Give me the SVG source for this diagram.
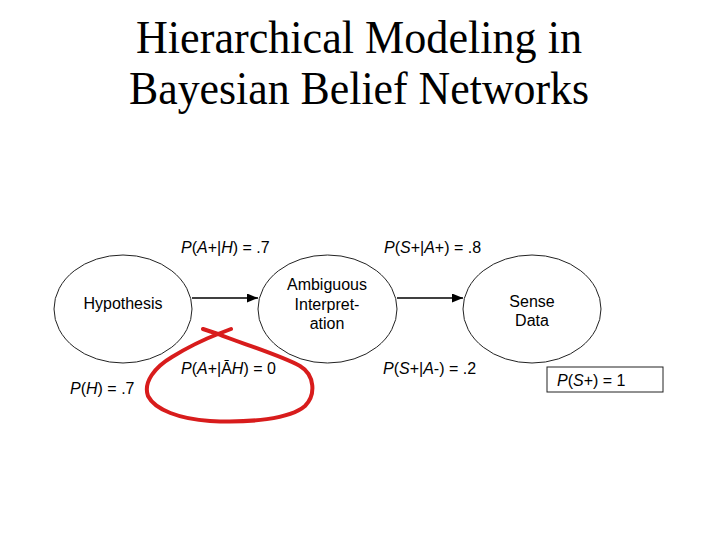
<svg xmlns="http://www.w3.org/2000/svg" width="720" height="540" viewBox="0 0 720 540">
<style>
.title{font-family:"Liberation Serif","Times New Roman",serif;font-size:47px;fill:#000}
.lbl{font-family:"Liberation Sans",Arial,sans-serif;font-size:16px;fill:#000}
.node{fill:#fff;stroke:#222;stroke-width:1}
.edge{stroke:#000;stroke-width:1.3;fill:none}
.i{font-style:italic}
.mid{text-anchor:middle}
</style>
<defs>
<marker id="arr" markerUnits="userSpaceOnUse" markerWidth="11" markerHeight="9" refX="11" refY="4.5" orient="auto">
<path d="M0,0 L11,4.5 L0,9 z" fill="#000"/>
</marker>
</defs>
<rect width="720" height="540" fill="#fff"/>
<g id="title">
<text class="title" x="136" y="53" textLength="446" lengthAdjust="spacingAndGlyphs">Hierarchical Modeling in</text>
<text class="title" x="129" y="104" textLength="460" lengthAdjust="spacingAndGlyphs">Bayesian Belief Networks</text>
</g>
<g id="connectors">
<line class="edge" x1="192" y1="298" x2="258" y2="298" marker-end="url(#arr)"/>
<line class="edge" x1="397" y1="298" x2="463" y2="298" marker-end="url(#arr)"/>
</g>
<g id="hypothesis">
<ellipse class="node" cx="123" cy="309" rx="69" ry="54"/>
<text class="lbl mid" x="123" y="309">Hypothesis</text>
</g>
<g id="ambiguous">
<ellipse class="node" cx="327.5" cy="309" rx="69.5" ry="54"/>
<text class="lbl mid" x="327" y="290">Ambiguous</text>
<text class="lbl mid" x="327" y="310">Interpret-</text>
<text class="lbl mid" x="327" y="329">ation</text>
</g>
<g id="sense">
<ellipse class="node" cx="532" cy="309" rx="69" ry="54"/>
<text class="lbl mid" x="532" y="307">Sense</text>
<text class="lbl mid" x="532" y="326">Data</text>
</g>
<g id="labels">
<text class="lbl" x="181" y="253"><tspan class="i">P</tspan>(<tspan class="i">A</tspan>+|<tspan class="i">H</tspan>) = .7</text>
<text class="lbl" x="384" y="253"><tspan class="i">P</tspan>(<tspan class="i">S</tspan>+|<tspan class="i">A</tspan>+) = .8</text>
<text class="lbl" x="383" y="374"><tspan class="i">P</tspan>(<tspan class="i">S</tspan>+|<tspan class="i">A</tspan>-) = .2</text>
<text class="lbl" x="181" y="374"><tspan class="i">P</tspan>(<tspan class="i">A</tspan>+|Ā<tspan class="i">H</tspan>) = 0</text>
<text class="lbl" x="70" y="394"><tspan class="i">P</tspan>(<tspan class="i">H</tspan>) = .7</text>
</g>
<g id="evidence">
<rect x="547" y="367" width="116" height="25" fill="#fff" stroke="#222" stroke-width="1"/>
<text class="lbl" x="557" y="386"><tspan class="i">P</tspan>(<tspan class="i">S</tspan>+) = 1</text>
</g>
<g id="annotation">
<path d="M203,329 L218,334 C240,343 280,355 300,366 C315,375 316,395 305,406 C290,419 250,423 210,421 C180,419 155,410 148,396 C143,382 155,367 172,357 C185,349 205,339 218,334 L231,329" fill="none" stroke="#d81c1c" stroke-width="4" stroke-linecap="round" stroke-linejoin="round"/>
</g>
</svg>
